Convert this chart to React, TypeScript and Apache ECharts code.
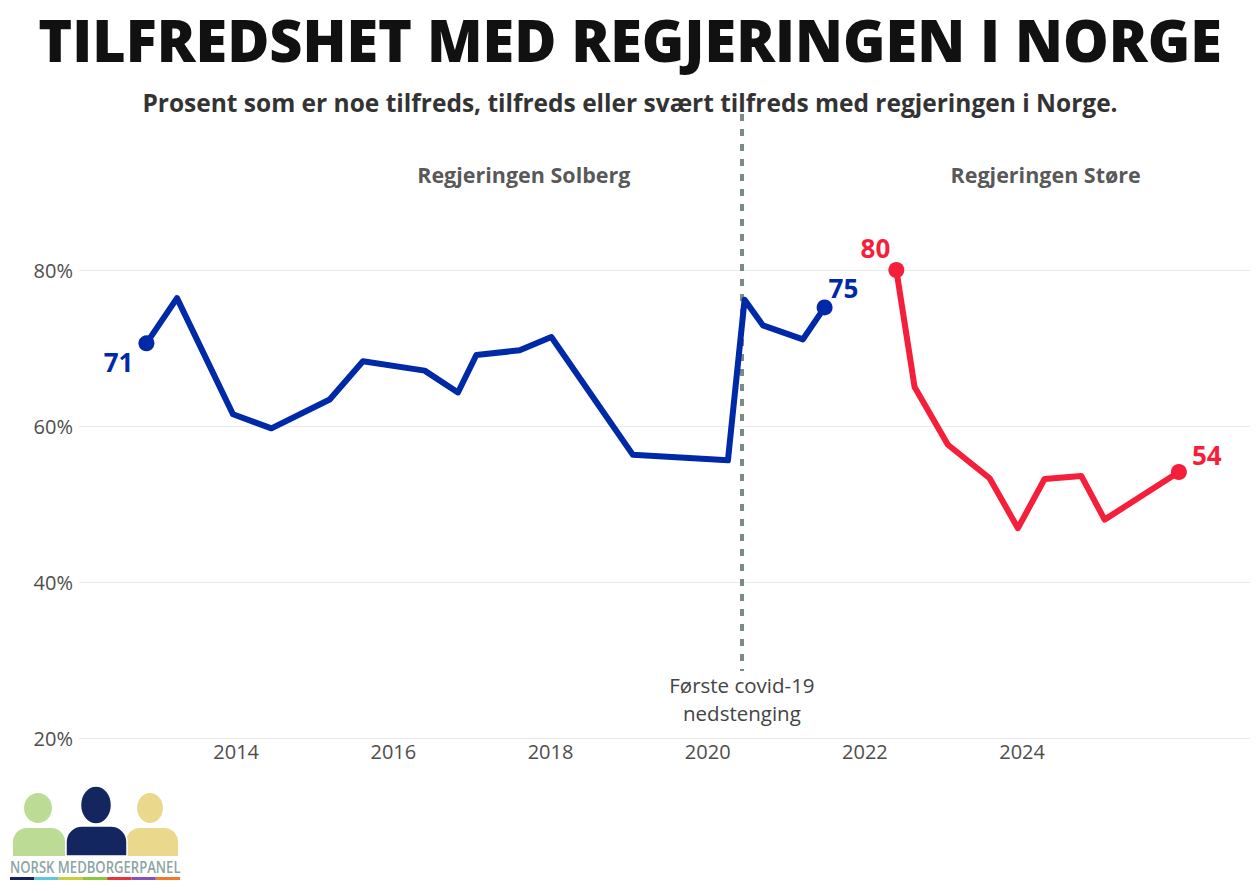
import React, { useEffect, useRef } from "react";
import * as echarts from "echarts";

// ---- data ----
const solbergYears = [2012.858, 2013.247, 2013.959, 2014.448, 2015.19, 2015.613, 2016.398, 2016.822, 2017.056, 2017.607, 2018.01, 2019.048, 2020.257, 2020.469, 2020.702, 2021.211, 2021.487];
const solbergValues = [70.6, 76.4, 61.5, 59.7, 63.4, 68.3, 67.1, 64.3, 69.1, 69.7, 71.4, 56.3, 55.6, 76.2, 72.9, 71.1, 75.2];
const stoereYears = [2022.4, 2022.632, 2023.056, 2023.587, 2023.947, 2024.286, 2024.753, 2025.05, 2025.995];
const stoereValues = [80.0, 65.0, 57.6, 53.3, 46.9, 53.2, 53.6, 48.0, 54.1];
const xTickLabels = [2014, 2016, 2018, 2020, 2022, 2024];
const yTickLabels = [20, 40, 60, 80];
const covidYear = 2020.435;
const covidText = "Første covid-19\nnedstenging";
const govNames = ["Regjeringen Solberg", "Regjeringen Støre"];
const govYears = [2017.66, 2024.3];
const govLevel = 92.3;

const BLUE = "#0029a8";
const RED = "#f51f3b";
const FONT = "'Open Sans', 'Noto Sans', sans-serif";

export default function App() {
  const ref = useRef<HTMLDivElement>(null);
  useEffect(() => {
    document.body.style.margin = "0";
    if (!ref.current) return;
    const chart = echarts.init(ref.current, null, { renderer: "svg" });
    const solberg = solbergYears.map((x, i) => [x, solbergValues[i]]);
    const stoere = stoereYears.map((x, i) => [x, stoereValues[i]]);
    const lastS = solberg.length - 1;
    const lastR = stoere.length - 1;
    const endLabel = (p: any) => String(Math.round(p.value[1]));
    const labelBase = { show: true, fontFamily: FONT, fontWeight: "bold", fontSize: 26, formatter: endLabel };

    const logoColors = ["#13235a", "#5fc8d6", "#c9cf3b", "#8cc63f", "#e8323c", "#8a4fb8", "#f07a2a"];
    const logo: any[] = [
      // green person
      { type: "ellipse", shape: { cx: 38, cy: 808, rx: 14, ry: 15 }, style: { fill: "#bcdc95" } },
      { type: "rect", shape: { x: 13, y: 828, width: 52, height: 28, r: [14, 14, 0, 0] }, style: { fill: "#bcdc95" } },
      // yellow person
      { type: "ellipse", shape: { cx: 150, cy: 808, rx: 13, ry: 15 }, style: { fill: "#ead88c" } },
      { type: "rect", shape: { x: 126, y: 828, width: 52, height: 28, r: [14, 14, 0, 0] }, style: { fill: "#ead88c" } },
      // navy person
      { type: "ellipse", shape: { cx: 96, cy: 805, rx: 15.5, ry: 19 }, style: { fill: "#142660", stroke: "#fff", lineWidth: 1.5 } },
      { type: "rect", shape: { x: 66, y: 826, width: 61, height: 30, r: [16, 16, 0, 0] }, style: { fill: "#142660", stroke: "#fff", lineWidth: 1.5 } },
      { type: "text", x: 10, y: 858, scaleX: 0.77, style: { text: "NORSK MEDBORGERPANEL", fontFamily: FONT, fontSize: 17, fontWeight: 600, fill: "#8ca4a4", textVerticalAlign: "top" } },
    ];
    logoColors.forEach((c, i) => {
      logo.push({ type: "rect", shape: { x: 10 + i * 24.3, y: 877, width: 24.3, height: 3 }, style: { fill: c } });
    });

    const option: any = {
      animation: false,
      backgroundColor: "#ffffff",
      title: [
        { text: "TILFREDSHET MED REGJERINGEN I NORGE", left: "center", top: 6, textStyle: { fontFamily: FONT, fontWeight: 800, fontSize: 57.5, color: "#111111" } },
        { text: "Prosent som er noe tilfreds, tilfreds eller svært tilfreds med regjeringen i Norge.", left: "center", top: 85, textStyle: { fontFamily: FONT, fontWeight: "bold", fontSize: 24.5, color: "#333333" } },
      ],
      grid: { left: 79, right: 10, top: 114, bottom: 153 },
      xAxis: {
        type: "value", min: 2012, max: 2026.9, interval: 2,
        axisLine: { show: false }, axisTick: { show: false }, splitLine: { show: false },
        axisLabel: {
          fontFamily: FONT, fontSize: 20, color: "#4d4d4d", margin: 3,
          formatter: (v: number) => (xTickLabels.includes(v) ? String(v) : ""),
        },
      },
      yAxis: {
        type: "value", min: 20, max: 100, interval: 20,
        axisLine: { show: false }, axisTick: { show: false },
        splitLine: { show: true, showMaxLine: false, lineStyle: { color: "#ebebeb", width: 1 } },
        axisLabel: {
          fontFamily: FONT, fontSize: 20, color: "#4d4d4d", margin: 6,
          formatter: (v: number) => (yTickLabels.includes(v) ? v + "%" : ""),
        },
      },
      graphic: logo,
      series: [
        {
          type: "line", data: solberg, showSymbol: false, z: 3,
          lineStyle: { color: BLUE, width: 6, join: "round" },
          markLine: {
            silent: true, symbol: "none", z: 2,
            lineStyle: { color: "#7b8b8b", width: 4, type: [7, 8] },
            label: { show: true, position: "end", distance: 0, formatter: covidText, fontFamily: FONT, fontSize: 20.5, color: "#444444", lineHeight: 28 },
            data: [[{ coord: [covidYear, 100] }, { coord: [covidYear, 28.6] }]],
          },
        },
        {
          type: "line", data: stoere, showSymbol: false, z: 3,
          lineStyle: { color: RED, width: 6, join: "round" },
        },
        {
          type: "scatter", symbolSize: 16, z: 4, itemStyle: { color: BLUE, opacity: 1 },
          data: [
            { value: solberg[0], label: { ...labelBase, color: BLUE, position: "left", distance: 5, offset: [0, 19] } },
            { value: solberg[lastS], label: { ...labelBase, color: BLUE, position: "right", distance: 2, offset: [-6, -19] } },
          ],
        },
        {
          type: "scatter", symbolSize: 16, z: 4, itemStyle: { color: RED, opacity: 1 },
          data: [
            { value: stoere[0], label: { ...labelBase, color: RED, position: "left", distance: 2, offset: [4, -22] } },
            { value: stoere[lastR], label: { ...labelBase, color: RED, position: "right", distance: 5, offset: [0, -17] } },
          ],
        },
        {
          type: "scatter", symbolSize: 0, silent: true,
          data: govNames.map((n, i) => ({ name: n, value: [govYears[i], govLevel] })),
          label: { show: true, position: "inside", formatter: (p: any) => p.name, fontFamily: FONT, fontWeight: "bold", fontSize: 21.5, color: "#2b2b2b" },
        },
      ],
    };
    chart.setOption(option);
    return () => chart.dispose();
  }, []);
  return <div ref={ref} style={{ width: 1260, height: 891 }} />;
}
